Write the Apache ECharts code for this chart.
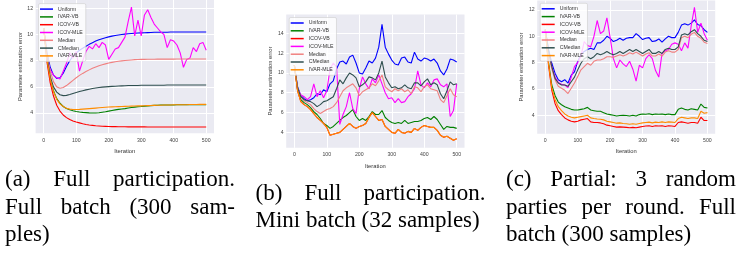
<!DOCTYPE html>
<html><head><meta charset="utf-8">
<script src="https://cdn.jsdelivr.net/npm/echarts@6/dist/echarts.min.js"></script>
<style>html,body{margin:0;padding:0;background:#fff}#c{width:739px;height:256px}</style>
</head><body><div id="c"></div>
<script>
// ---------------- data ----------------
const ITER = [0,10,20,30,40,50,60,70,80,90,100,110,120,130,140,150,160,170,180,190,200,210,220,230,240,250,260,270,280,290,300,310,320,330,340,350,360,370,380,390,400,410,420,430,440,450,460,470,480,490,500];
const SERIES_NAMES = ['Uniform','IVAR-VB','ICOV-VB','ICOV-MLE','Median','CMedian','IVAR-MLE'];
const X_TICKS = [0,100,200,300,400,500];
const Y_TICKS_A = [4,6,8,10,12];
const Y_TICKS_B = [4,6,8,10,12,14];
const Y_TICKS_C = [4,6,8,10,12];
const X_NAME = 'Iteration';
const Y_NAME = 'Parameter estimation error';

// (a) full participation, full batch
const a_uniform = [10.5,8.6,7.5,6.9,6.65,6.7,7.05,7.55,8.0,8.35,8.6,8.8,8.95,9.1,9.25,9.38,9.5,9.6,9.68,9.75,9.82,9.88,9.93,9.97,10.0,10.03,10.06,10.08,10.1,10.12,10.13,10.14,10.15,10.16,10.17,10.17,10.18,10.18,10.18,10.19,10.19,10.19,10.19,10.19,10.19,10.19,10.19,10.19,10.19,10.19,10.19];
const a_ivarvb = [10.5,8.1,6.6,5.7,5.1,4.75,4.5,4.35,4.25,4.18,4.12,4.08,4.05,4.03,4.01,4.0,4.0,4.02,4.06,4.1,4.15,4.2,4.24,4.28,4.31,4.34,4.38,4.42,4.45,4.48,4.5,4.53,4.55,4.57,4.59,4.6,4.61,4.61,4.62,4.62,4.62,4.63,4.63,4.63,4.63,4.63,4.64,4.64,4.64,4.64,4.64];
const a_icovvb = [10.5,7.9,6.3,5.3,4.6,4.15,3.85,3.65,3.5,3.4,3.32,3.25,3.18,3.13,3.09,3.06,3.03,3.01,2.99,2.98,2.97,2.96,2.96,2.95,2.95,2.95,2.94,2.94,2.94,2.94,2.94,2.94,2.93,2.93,2.93,2.93,2.93,2.93,2.93,2.93,2.93,2.93,2.93,2.93,2.93,2.93,2.93,2.93,2.93,2.93,2.93];
const a_icovmle = [10.5,8.2,7.3,6.9,6.7,6.6,7.2,7.8,8.6,8.2,8.7,7.2,8.0,8.7,9.1,8.9,9.3,9.0,9.4,9.2,8.1,8.5,8.9,9.0,9.4,9.8,11.0,12.1,9.9,11.1,9.9,11.5,11.9,11.3,10.8,10.5,10.2,10.0,9.0,9.6,9.5,9.2,8.6,7.5,8.1,8.2,9.0,8.7,9.3,9.4,8.8];
const a_median = [10.5,8.5,7.2,6.4,6.0,5.9,5.95,6.1,6.3,6.5,6.7,6.88,7.03,7.17,7.3,7.42,7.52,7.61,7.69,7.76,7.82,7.87,7.92,7.96,7.99,8.02,8.04,8.06,8.08,8.09,8.1,8.1,8.11,8.11,8.11,8.12,8.12,8.12,8.12,8.12,8.12,8.13,8.13,8.13,8.13,8.13,8.13,8.13,8.13,8.13,8.13];
const a_cmedian = [10.5,8.3,6.8,6.0,5.6,5.4,5.33,5.35,5.42,5.5,5.57,5.64,5.71,5.77,5.82,5.87,5.91,5.95,5.98,6.0,6.02,6.04,6.05,6.07,6.08,6.09,6.1,6.1,6.11,6.11,6.12,6.12,6.12,6.13,6.13,6.13,6.13,6.13,6.14,6.14,6.14,6.14,6.14,6.14,6.14,6.14,6.14,6.14,6.14,6.14,6.14];
const a_ivarmle = [10.5,8.1,6.6,5.65,5.05,4.7,4.5,4.37,4.3,4.27,4.27,4.28,4.3,4.32,4.34,4.36,4.38,4.4,4.42,4.44,4.46,4.47,4.48,4.49,4.5,4.51,4.52,4.53,4.54,4.55,4.55,4.56,4.57,4.58,4.59,4.6,4.6,4.61,4.61,4.62,4.63,4.63,4.63,4.64,4.64,4.65,4.65,4.65,4.66,4.66,4.66];

// (b) full participation, mini batch
const b_uniform = [10.8,8.6,7.7,7.4,7.2,7.3,7.5,7.9,7.8,8.3,8.1,8.9,9.2,10.4,11.1,11.2,10.9,11.6,11.8,11.0,10.0,9.9,10.5,11.2,11.0,11.5,12.6,14.9,12.6,11.9,11.3,10.9,10.8,11.5,11.6,11.1,11.0,12.1,11.4,11.2,11.5,11.4,11.2,11.4,11.0,10.2,9.8,10.4,11.4,11.3,11.1];
const b_ivarvb = [10.8,8.3,7.3,7.0,6.8,6.5,6.1,5.8,5.4,4.9,4.7,4.4,4.6,4.9,5.2,5.5,5.7,6.0,6.3,5.6,5.2,5.4,5.2,5.6,6.1,5.8,5.8,6.2,5.5,5.2,5.0,4.9,5.0,4.9,5.2,4.9,5.0,5.1,5.1,5.2,5.4,5.5,5.3,5.6,5.3,4.8,4.3,4.6,4.5,4.5,4.4];
const b_icovvb = [10.8,8.2,7.1,6.8,6.6,6.3,5.9,5.5,5.2,4.9,4.5,3.7,3.8,3.9,4.0,4.3,4.6,4.9,4.6,4.4,4.6,4.7,4.9,5.5,6.0,5.6,5.2,5.3,4.6,4.3,4.0,3.9,4.3,4.0,3.9,4.1,4.0,4.4,4.2,4.5,4.7,4.6,4.5,4.5,4.2,3.7,3.5,3.6,3.4,3.2,3.35];
const b_icovmle = [10.8,8.4,7.8,7.6,7.3,7.6,8.9,7.6,8.2,7.5,8.2,10.4,11.0,10.6,4.8,5.8,6.6,8.0,6.4,5.9,8.4,9.6,8.9,8.4,9.4,9.0,9.8,8.9,8.0,7.4,7.5,7.0,7.4,7.0,7.1,7.6,7.9,8.4,10.2,8.8,8.5,9.0,8.6,9.3,9.4,8.8,8.6,8.9,5.6,6.2,8.9];
const b_median = [10.8,8.5,7.6,7.2,7.0,6.8,6.4,6.1,5.9,6.1,6.3,6.4,6.6,7.0,7.6,8.2,8.5,8.7,8.9,8.5,7.7,8.1,8.3,8.5,8.9,8.7,9.2,9.8,8.6,8.3,8.1,8.4,8.2,8.4,8.1,8.3,7.9,8.6,8.5,8.1,8.6,8.8,8.4,8.3,8.2,7.3,7.0,7.7,8.4,7.8,7.6];
const b_cmedian = [10.8,8.5,7.6,7.3,7.2,7.1,6.9,6.6,6.8,7.1,7.2,7.4,7.6,8.4,9.3,8.9,9.5,10.0,9.8,9.5,8.6,8.8,9.1,9.6,9.5,9.3,10.0,11.2,9.6,9.0,8.5,8.6,8.4,8.5,8.8,8.5,8.4,9.0,9.0,8.7,9.1,9.4,8.8,9.0,8.8,7.9,7.4,8.2,9.1,8.8,8.9];
const b_ivarmle = [10.8,8.2,7.1,6.8,6.6,6.3,5.9,5.5,5.2,4.9,4.5,3.7,3.8,3.9,4.0,4.3,4.6,4.9,4.6,4.4,4.6,4.7,4.9,5.5,6.0,5.6,5.2,5.3,4.6,4.3,4.0,3.9,4.3,4.0,3.9,4.1,4.0,4.4,4.2,4.5,4.7,4.6,4.5,4.5,4.2,3.7,3.5,3.6,3.4,3.2,3.35];

// (c) partial participation, full batch
const c_uniform = [10.5,9.0,7.95,7.2,6.7,6.55,6.7,6.45,7.05,7.3,8.1,8.6,8.85,9.0,9.1,9.0,9.5,9.5,9.7,10.0,9.85,9.6,9.7,9.85,9.7,9.85,9.9,9.9,10.2,10.0,9.75,9.85,9.9,9.6,9.65,9.8,9.55,9.8,10.0,9.9,9.9,10.3,10.85,10.95,10.85,11.0,11.25,10.9,10.8,10.5,10.3];
const c_ivarvb = [10.5,8.0,6.3,5.5,5.0,4.8,4.65,4.55,4.45,4.4,4.4,4.45,4.5,4.6,4.4,4.35,4.3,4.3,4.2,4.1,4.05,4.0,3.95,3.98,4.0,3.98,3.95,4.0,3.95,4.05,4.1,4.08,4.12,4.05,4.1,4.08,4.1,4.05,4.1,4.05,4.05,4.45,4.55,4.45,4.4,4.5,4.45,4.4,4.85,4.6,4.55];
const c_icovvb = [10.5,7.8,5.9,4.9,4.35,4.05,3.8,3.65,3.55,3.5,3.55,3.65,3.7,3.75,3.5,3.45,3.45,3.42,3.35,3.25,3.2,3.15,3.1,3.12,3.1,3.08,3.05,3.08,3.05,3.1,3.15,3.18,3.2,3.15,3.2,3.18,3.2,3.15,3.2,3.18,3.15,3.45,3.5,3.45,3.4,3.45,3.45,3.4,3.85,3.6,3.6];
const c_icovmle = [10.5,8.8,7.7,6.9,6.5,6.35,6.3,6.1,6.9,7.7,8.0,8.5,9.6,9.3,9.2,10.0,11.2,10.2,10.4,11.4,9.9,8.3,7.6,8.2,7.9,7.7,8.1,7.5,6.6,7.8,7.6,8.3,8.6,8.3,7.4,6.9,8.7,8.9,9.0,9.4,9.5,9.4,8.9,9.5,9.1,10.8,12.2,10.3,11.0,10.2,9.7];
const c_median = [10.5,8.7,7.5,6.7,6.2,6.05,5.9,5.65,6.05,6.45,6.95,7.45,7.7,7.95,7.8,8.1,8.2,8.2,8.3,8.45,8.45,8.4,8.5,8.6,8.5,8.6,8.75,8.65,8.8,8.65,8.5,8.65,8.75,8.5,8.5,8.65,8.5,8.8,8.9,8.8,8.8,9.0,9.9,10.0,9.9,10.15,10.3,10.0,9.85,9.55,9.45];
const c_cmedian = [10.5,8.9,7.7,6.8,6.45,6.3,6.3,6.2,6.55,6.9,7.45,7.95,8.3,8.45,8.3,8.45,8.7,8.6,8.7,8.85,8.7,8.6,8.7,8.85,8.7,8.85,9.0,8.85,9.0,8.85,8.7,8.85,9.0,8.7,8.7,8.85,8.7,9.0,9.1,9.0,9.0,9.2,10.1,10.2,10.1,10.35,10.5,10.2,10.0,9.7,9.6];
const c_ivarmle = [10.5,7.9,6.1,5.2,4.65,4.35,4.1,3.95,3.85,3.8,3.85,3.9,3.95,4.0,3.8,3.75,3.72,3.7,3.65,3.55,3.5,3.45,3.4,3.42,3.38,3.35,3.32,3.35,3.32,3.38,3.42,3.45,3.48,3.42,3.48,3.45,3.5,3.45,3.5,3.48,3.45,3.75,3.85,3.8,3.75,3.8,3.8,3.75,4.3,4.15,4.2];

const CAPTION_A = [['(a) Full participation.', true], ['Full batch (300 sam-', true], ['ples)', false]];
const CAPTION_B = [['(b) Full participation.', true], ['Mini batch (32 samples)', false]];
const CAPTION_C = [['(c) Partial: 3 random', true], ['parties per round. Full', true], ['batch (300 samples)', false]];

// ---------------- layout / style ----------------
const COLORS = ['#0000ff','#008000','#ff0000','#ff00ff','#f08080','#2f4f4f','#ff8c00'];
const SANS = '"Liberation Sans", Arial, sans-serif';
const SERIF_FONT = '23px "Liberation Serif", "Times New Roman", serif';
const PANELS = [
  {series:[a_uniform,a_ivarvb,a_icovvb,a_icovmle,a_median,a_cmedian,a_ivarmle], yTicks:Y_TICKS_A,
   grid:{left:35.6, top:0, width:178.4, height:133.2}, yMin:2.46, yMax:12.64, legend:{left:38.5, top:3.6}},
  {series:[b_uniform,b_ivarvb,b_icovvb,b_icovmle,b_median,b_cmedian,b_ivarmle], yTicks:Y_TICKS_B,
   grid:{left:286.2, top:14.5, width:178.3, height:133.3}, yMin:2.44, yMax:15.9, legend:{left:289.2, top:17.5}},
  {series:[c_uniform,c_ivarvb,c_icovvb,c_icovmle,c_median,c_cmedian,c_ivarmle], yTicks:Y_TICKS_C,
   grid:{left:537.2, top:0.5, width:178, height:133.2}, yMin:2.6, yMax:12.72, legend:{left:540.2, top:3.3}}
];
const CAPTIONS = [
  {lines:CAPTION_A, x:5, width:230, y:180},
  {lines:CAPTION_B, x:255.5, width:230, y:193.8},
  {lines:CAPTION_C, x:506, width:230, y:180}
];
const LINE_STEP = 27.6;

const grids = [], xAxes = [], yAxes = [], series = [], legends = [];
PANELS.forEach((p, pi) => {
  grids.push(Object.assign({show:true, backgroundColor:'#eaeaf2', borderWidth:0, containLabel:false}, p.grid));
  xAxes.push({type:'value', gridIndex:pi, min:-25, max:524,
    axisLine:{show:false}, axisTick:{show:false, customValues:X_TICKS},
    axisLabel:{customValues:X_TICKS, fontSize:5.2, lineHeight:6, color:'#444', fontFamily:SANS, margin:4},
    splitLine:{show:true, lineStyle:{color:'#ffffff', width:1}},
    name:X_NAME, nameLocation:'middle', nameGap:11,
    nameTextStyle:{fontSize:5.8, lineHeight:6.5, color:'#333', fontFamily:SANS}});
  yAxes.push({type:'value', gridIndex:pi, min:p.yMin, max:p.yMax,
    axisLine:{show:false}, axisTick:{show:false, customValues:p.yTicks},
    axisLabel:{customValues:p.yTicks, fontSize:5.2, color:'#444', fontFamily:SANS, margin:2.5},
    splitLine:{show:true, lineStyle:{color:'#ffffff', width:1}},
    name:Y_NAME, nameLocation:'middle', nameGap:12.4, nameRotate:90,
    nameTextStyle:{fontSize:5.8, color:'#333', fontFamily:SANS}});
  p.series.forEach((vals, si) => {
    series.push({type:'line', name:SERIES_NAMES[si], xAxisIndex:pi, yAxisIndex:pi,
      data: ITER.map((it, k) => [it, vals[k]]),
      symbol:'none', showSymbol:false, smooth:false, animation:false,
      lineStyle:{color:COLORS[si], width:1.1}, itemStyle:{color:COLORS[si]}, z:2});
  });
  legends.push({show:true, orient:'vertical', left:p.legend.left, top:p.legend.top,
    data: SERIES_NAMES.map(n => ({name:n, icon:'rect'})),
    itemWidth:13, itemHeight:1.5, itemGap:1.8, selectedMode:false,
    textStyle:{fontSize:5.2, lineHeight:6, color:'#333', fontFamily:SANS},
    backgroundColor:'rgba(255,255,255,0.8)', borderColor:'#cccccc', borderWidth:0.6, borderRadius:1.5,
    padding:[2.5,3,2.5,1.5], z:10});
});

// captions (justified like the LaTeX source)
const mctx = document.createElement('canvas').getContext('2d');
mctx.font = SERIF_FONT;
const graphics = [];
CAPTIONS.forEach(cap => {
  cap.lines.forEach(([txt, justify], li) => {
    const y = cap.y + li * LINE_STEP;
    if (!justify) {
      graphics.push({type:'text', x:cap.x, y, silent:true,
        style:{text:txt, font:SERIF_FONT, fill:'#000', align:'left', verticalAlign:'middle'}});
      return;
    }
    const words = txt.split(' ');
    const widths = words.map(w => mctx.measureText(w).width);
    const total = widths.reduce((s, w) => s + w, 0);
    const gap = (cap.width - total) / (words.length - 1);
    let x = cap.x;
    words.forEach((w, wi) => {
      graphics.push({type:'text', x, y, silent:true,
        style:{text:w, font:SERIF_FONT, fill:'#000', align:'left', verticalAlign:'middle'}});
      x += widths[wi] + gap;
    });
  });
});

const chart = echarts.init(document.getElementById('c'), null, {renderer:'canvas'});
chart.setOption({animation:false, grid:grids, xAxis:xAxes, yAxis:yAxes, series, legend:legends, graphic:graphics});
</script>
</body></html>
